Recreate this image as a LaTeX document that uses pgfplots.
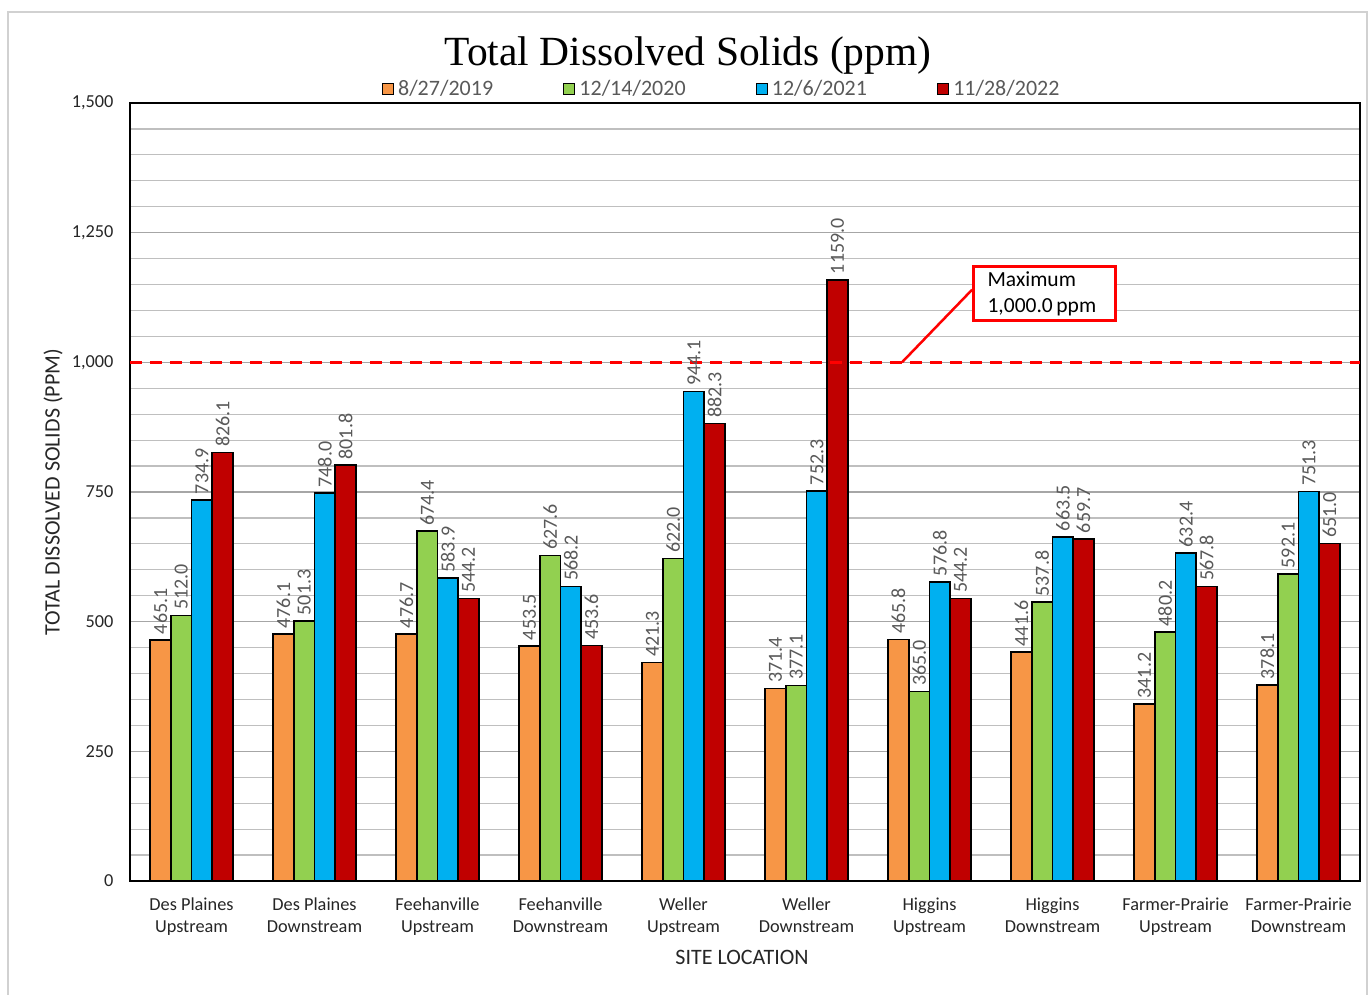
\documentclass[border=0pt]{standalone}
\usepackage{pgfplots}
\pgfplotsset{compat=1.18}
\usepackage{fontspec}
\setmainfont{Carlito}
\newfontfamily\titlefont{Liberation Serif}

\definecolor{cOrange}{HTML}{F79646}
\definecolor{cGreen}{HTML}{92D050}
\definecolor{cBlue}{HTML}{00B0F0}
\definecolor{cRed}{HTML}{C00000}
\definecolor{lblgray}{HTML}{595959}

\begin{document}
\begin{tikzpicture}
\useasboundingbox (0,0) rectangle (1371pt,994pt);
\draw[black!18, line width=1.5pt] (8pt,-10pt) rectangle (1367pt,982pt);
\begin{axis}[
  at={(130pt,113pt)}, anchor=south west,
  scale only axis, width=1230pt, height=778pt,
  ybar=0pt, bar width=20.7pt,
  xmin=-0.5, xmax=9.5, ymin=0, ymax=1500,
  enlarge x limits=false,
  clip=false,
  axis line style={black, line width=1.8pt},
  xtick=data,
  xticklabels={{Des Plaines\\Upstream},{Des Plaines\\Downstream},{Feehanville\\Upstream},{Feehanville\\Downstream},{Weller\\Upstream},{Weller\\Downstream},{Higgins\\Upstream},{Higgins\\Downstream},{Farmer-Prairie\\Upstream},{Farmer-Prairie\\Downstream}},
  xticklabel style={align=center, font=\fontsize{18.3}{22}\selectfont, text=black!85, yshift=-13pt},
  ytick={0,250,...,1500},
  yticklabels={0,250,500,750,{1,000},{1,250},{1,500}},
  yticklabel style={font=\fontsize{18.3}{18}\selectfont, text=black!85, xshift=-13pt},
  minor y tick num=4,
  major tick length=0pt, minor tick length=0pt,
  ymajorgrids, yminorgrids,
  major grid style={black!35, line width=1.2pt},
  minor grid style={black!25, line width=1.2pt},
  title={\titlefont Total Dissolved Solids (ppm)},
  title style={at={(0.4537,1.0656)}, anchor=center, yshift=-10pt, font=\fontsize{41.5}{41.5}\selectfont},
  xlabel={SITE LOCATION},
  xlabel style={at={(0.4976,-0.0977)}, anchor=center, font=\fontsize{22}{22}\selectfont, text=black!85},
  ylabel={TOTAL DISSOLVED SOLIDS (PPM)},
  ylabel style={at={(-0.0626,0.5)}, anchor=center, rotate=0, font=\fontsize{22}{22}\selectfont, text=black!85},
  nodes near coords={\pgfmathprintnumber[fixed,fixed zerofill,precision=1,1000 sep={},assume math mode=true]{\pgfplotspointmeta}},
  every node near coord/.append style={rotate=90, anchor=west, font=\fontsize{20}{20}\selectfont, text=lblgray, inner sep=5pt},
  legend columns=4,
  legend style={at={(0.481,1.018)}, anchor=center, draw=none, fill=none,
    font=\fontsize{22}{22}\selectfont, text=lblgray,
    /tikz/every odd column/.append style={column sep=2pt},
    /tikz/every even column/.append style={column sep=68pt}},
  legend image code/.code={\draw[#1, draw=black, line width=1.3pt] (0pt,-5.5pt) rectangle (11pt,5.5pt);},
]
\addplot[fill=cOrange, draw=black, line width=1.5pt] coordinates {
  (0,465.1)(1,476.1)(2,476.7)(3,453.5)(4,421.3)(5,371.4)(6,465.8)(7,441.6)(8,341.2)(9,378.1)};
\addplot[fill=cGreen, draw=black, line width=1.5pt] coordinates {
  (0,512.0)(1,501.3)(2,674.4)(3,627.6)(4,622.0)(5,377.1)(6,365.0)(7,537.8)(8,480.2)(9,592.1)};
\addplot[fill=cBlue, draw=black, line width=1.5pt] coordinates {
  (0,734.9)(1,748.0)(2,583.9)(3,568.2)(4,944.1)(5,752.3)(6,576.8)(7,663.5)(8,632.4)(9,751.3)};
\addplot[fill=cRed, draw=black, line width=1.5pt] coordinates {
  (0,826.1)(1,801.8)(2,544.2)(3,453.6)(4,882.3)(5,1159.0)(6,544.2)(7,659.7)(8,567.8)(9,651.0)};
\legend{8/27/2019,12/14/2020,12/6/2021,11/28/2022}

\draw[red, line width=2.5pt, dash pattern=on 12pt off 8pt] (axis cs:-0.5,1000) -- (axis cs:9.5,1000);
\draw[red, line width=2.5pt] (axis cs:5.776,1000) -- (axis cs:6.346,1140);
\node[draw=red, line width=3pt, fill=white, anchor=north west, align=left,
  minimum width=142pt, minimum height=54pt, inner xsep=14pt, inner ysep=2pt,
  text width=114pt, font=\fontsize{21.5}{26}\selectfont]
  at (axis cs:6.346,1187.6) {Maximum\\1,000.0\,ppm};
\end{axis}
\end{tikzpicture}
\end{document}
